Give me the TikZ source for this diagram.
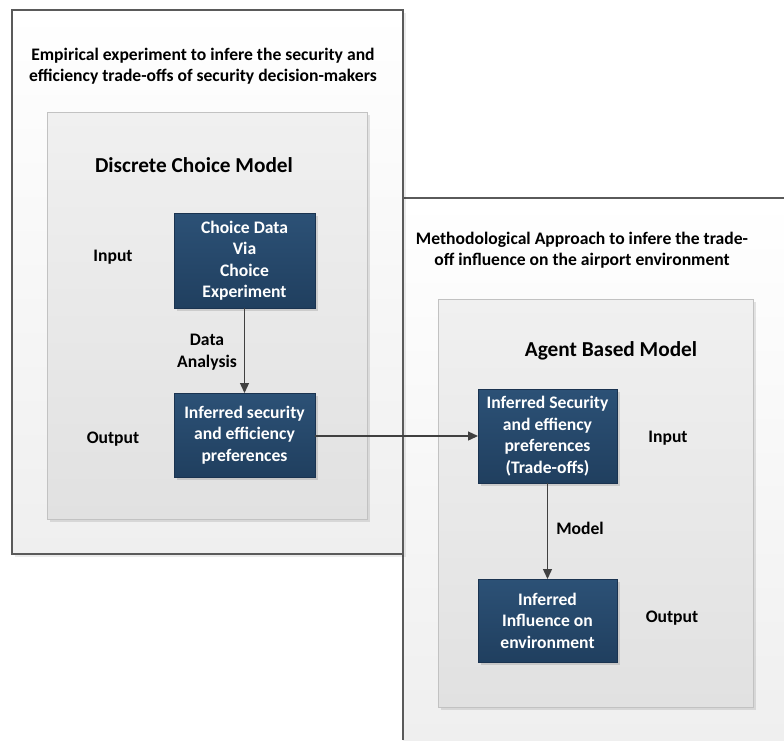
\documentclass[tikz,border=0pt]{standalone}
\usepackage{fontspec}
\setmainfont{Carlito}
\usetikzlibrary{arrows.meta,shadows}
\definecolor{boxtop}{HTML}{2C5176}
\definecolor{boxbot}{HTML}{203F5F}
\definecolor{boxline}{HTML}{1A3350}
\definecolor{conn}{HTML}{404040}
\definecolor{outline}{HTML}{5A5A5A}
\definecolor{innerline}{HTML}{C2C2C2}
\definecolor{innertop}{HTML}{F0F0F0}
\definecolor{innerbot}{HTML}{E1E1E1}
\definecolor{outerbot}{HTML}{EFEFEF}
\begin{document}
\begin{tikzpicture}[x=1pt,y=-1pt,
  outerbox/.style={draw=outline, line width=1.2pt, top color=white, bottom color=outerbot,
    anchor=north west, outer sep=0pt, inner sep=0pt,
    drop shadow={shadow xshift=3pt, shadow yshift=-3pt, fill=black, opacity=0.08}},
  innerbox/.style={draw=innerline, line width=1pt, top color=innertop, bottom color=innerbot,
    anchor=north west, outer sep=0pt, inner sep=0pt,
    drop shadow={shadow xshift=3pt, shadow yshift=-3pt, fill=black, opacity=0.10}},
  darkbox/.style={draw=boxline, line width=0.8pt, top color=boxtop, bottom color=boxbot,
    text=white, align=center, inner sep=0pt, outer sep=0pt,
    font=\fontsize{17.6}{21.5}\selectfont\bfseries,
    drop shadow={shadow xshift=3pt, shadow yshift=-3pt, fill=black, opacity=0.12}},
  lbl/.style={align=center, inner sep=0pt, font=\fontsize{17.6}{21.5}\selectfont\bfseries},
  ttl/.style={align=center, inner sep=0pt, font=\fontsize{21.3}{25}\selectfont\bfseries},
  conn/.style={draw=conn, line width=1.3pt, -{Triangle[length=10pt,width=9pt]}}
]
\useasboundingbox (0,0) rectangle (784,740);

% right outer container (clipped by the page)
\node[anchor=north west, outer sep=0pt, inner sep=0pt, top color=white, bottom color=outerbot,
  minimum width=381pt, minimum height=542pt] (rightouter) at (403,198) {};
\draw[draw=outline, line width=1.2pt] (rightouter.south west) -- (rightouter.north west) -- (rightouter.north east);

% left outer container
\node[outerbox, minimum width=391pt, minimum height=544pt] (leftouter) at (12,10) {};

% inner containers
\node[innerbox, minimum width=320pt, minimum height=407pt] (leftinner) at (47,112) {};
\node[innerbox, minimum width=315pt, minimum height=408pt] (rightinner) at (438,299) {};

% headings
\node[lbl] (emptitle) at (203,66) {Empirical experiment to infere the security and\\efficiency trade-offs of security decision-makers};
\node[lbl] (methtitle) at (582,250) {Methodological Approach to infere the trade-\\off influence on the airport environment};
\node[ttl] (dcmtitle) at (194,165) {Discrete Choice Model};
\node[ttl] (abmtitle) at (611,351) {Agent Based Model};

% dark boxes
\node[darkbox, minimum width=141pt, minimum height=95pt] (dcmin) at (244.5,260.5) {Choice Data\\Via\\Choice\\Experiment};
\node[darkbox, minimum width=141pt, minimum height=84pt] (dcmout) at (244.5,435) {Inferred security\\and efficiency\\preferences};
\node[darkbox, minimum width=139pt, minimum height=94pt] (abmin) at (547.5,436) {Inferred Security\\and effiency\\preferences\\(Trade-offs)};
\node[darkbox, minimum width=139pt, minimum height=83pt] (abmout) at (547.5,620.5) {Inferred\\Influence on\\environment};

% side labels
\node[lbl] (dcminlbl) at (113,257) {Input};
\node[lbl] (dcmoutlbl) at (113,439) {Output};
\node[lbl] (analysislbl) at (207,352) {Data\\Analysis};
\node[lbl] (abminlbl) at (668,438) {Input};
\node[lbl] (abmoutlbl) at (672,618) {Output};
\node[lbl] (modellbl) at (580,528) {Model};

% connectors
\draw[conn] (dcmin) -- (dcmout);
\draw[conn] (dcmout.east |- abmin.west) -- (abmin.west);
\draw[conn] (abmin) -- (abmout);
\end{tikzpicture}
\end{document}
